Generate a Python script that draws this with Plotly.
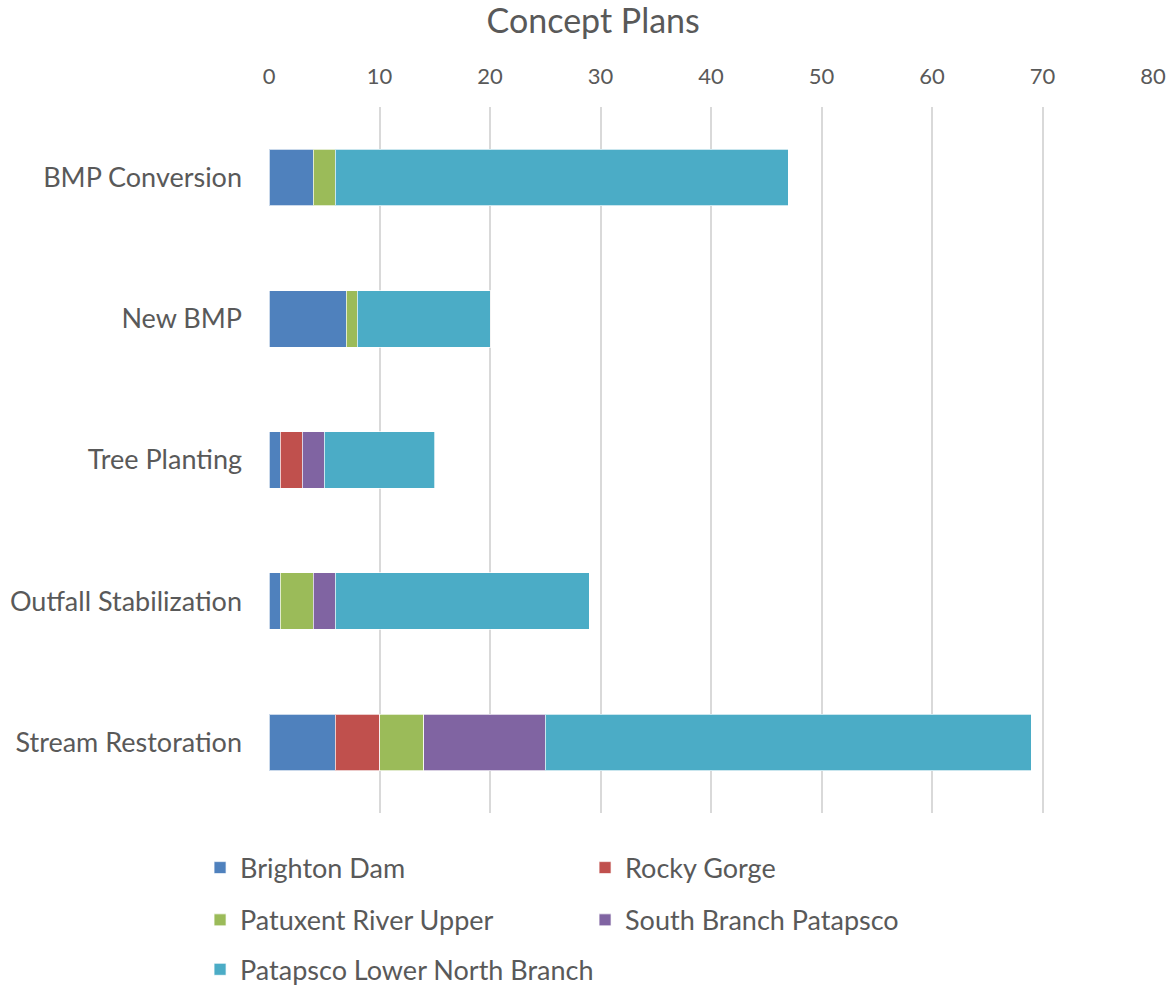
import plotly.graph_objects as go

categories = ["BMP Conversion", "New BMP", "Tree Planting", "Outfall Stabilization", "Stream Restoration"]
series_names = ["Brighton Dam", "Rocky Gorge", "Patuxent River Upper", "South Branch Patapsco", "Patapsco Lower North Branch"]
brighton_dam = [4, 7, 1, 1, 6]
rocky_gorge = [0, 0, 2, 0, 4]
patuxent_river_upper = [2, 1, 0, 3, 4]
south_branch_patapsco = [0, 0, 2, 2, 11]
patapsco_lower_north_branch = [41, 12, 10, 23, 44]
x_ticks = [0, 10, 20, 30, 40, 50, 60, 70, 80]

series_values = [brighton_dam, rocky_gorge, patuxent_river_upper, south_branch_patapsco, patapsco_lower_north_branch]
colors = ["#4F81BD", "#C0504D", "#9BBB59", "#8064A2", "#4BACC6"]
legend_ids = ["legend", "legend", "legend2", "legend2", "legend3"]

FONT = "Lato"
TEXT = "#595959"

fig = go.Figure()
for name, vals, col, lg in zip(series_names, series_values, colors, legend_ids):
    fig.add_trace(go.Bar(
        y=categories, x=vals, name=name, orientation="h",
        marker=dict(color=col, line=dict(color="rgba(255,255,255,0.7)", width=1)),
        legend=lg, width=0.4,
    ))

legend_common = dict(orientation="h", font=dict(family=FONT, size=27, color=TEXT),
                     entrywidthmode="pixels", xanchor="left",
                     yanchor="middle", bgcolor="rgba(0,0,0,0)", traceorder="normal")
fig.update_layout(
    width=1170, height=985,
    margin=dict(l=269, r=17, t=107, b=172, autoexpand=False),
    barmode="stack",
    plot_bgcolor="white", paper_bgcolor="white",
    title=dict(text="Concept Plans", x=0.507, xanchor="center", y=0.979, yanchor="middle",
               font=dict(family=FONT, size=34, color=TEXT)),
    xaxis=dict(side="top", range=[0, 80], tickvals=x_ticks, showline=False, zeroline=False,
               showgrid=True, gridcolor="#D9D9D9", gridwidth=1.5,
               tickfont=dict(family=FONT, size=22, color=TEXT), ticklabelstandoff=18,
               fixedrange=True),
    yaxis=dict(categoryorder="array", categoryarray=categories, autorange="reversed",
               showgrid=False, showline=False, zeroline=False,
               tickfont=dict(family=FONT, size=27, color=TEXT), ticklabelstandoff=26),
    legend=dict(x=-0.078, y=-0.078, entrywidth=340, **legend_common),
    legend2=dict(x=-0.078, y=-0.152, entrywidth=340, **legend_common),
    legend3=dict(x=-0.078, y=-0.222, entrywidth=420, **legend_common),
    bargap=0.6,
)

fig.write_html("out.html")
